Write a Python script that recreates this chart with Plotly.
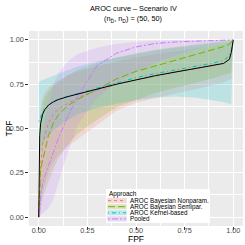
import plotly.graph_objects as go

# ---------------- data ----------------
FPF = [0, 0.005, 0.01, 0.02, 0.03, 0.05, 0.075, 0.1, 0.15, 0.2, 0.3, 0.4, 0.5,
       0.6, 0.7, 0.8, 0.9, 0.95, 0.98, 0.99, 1.0]

TRUE_AROC = [0, 0.46, 0.53, 0.58, 0.605, 0.632, 0.65, 0.663, 0.68, 0.695, 0.722,
             0.75, 0.775, 0.798, 0.818, 0.836, 0.855, 0.867, 0.89, 0.93, 1.0]

NONPAR = [0, 0.2, 0.3, 0.41, 0.46, 0.53, 0.58, 0.61, 0.645, 0.675, 0.715, 0.748,
          0.775, 0.797, 0.817, 0.835, 0.855, 0.868, 0.893, 0.93, 1.0]
NONPAR_LO = [0, 0.04, 0.08, 0.14, 0.18, 0.25, 0.31, 0.35, 0.4, 0.44, 0.52, 0.6,
             0.645, 0.672, 0.698, 0.72, 0.745, 0.76, 0.775, 0.78, 1.0]
NONPAR_HI = [0.2, 0.55, 0.62, 0.67, 0.7, 0.73, 0.755, 0.77, 0.8, 0.82, 0.85, 0.875,
             0.9, 0.92, 0.935, 0.95, 0.968, 0.978, 0.985, 0.99, 1.0]

SEMIPAR = [0, 0.22, 0.27, 0.32, 0.37, 0.46, 0.53, 0.575, 0.63, 0.665, 0.72, 0.78,
           0.822, 0.853, 0.885, 0.915, 0.945, 0.962, 0.975, 0.985, 1.0]
SEMIPAR_LO = [0, 0.03, 0.06, 0.1, 0.14, 0.2, 0.27, 0.33, 0.41, 0.47, 0.55, 0.62,
              0.66, 0.7, 0.73, 0.755, 0.785, 0.8, 0.81, 0.815, 1.0]
SEMIPAR_HI = [0, 0.45, 0.55, 0.63, 0.67, 0.71, 0.74, 0.76, 0.8, 0.83, 0.87, 0.9,
              0.925, 0.945, 0.96, 0.975, 0.988, 0.993, 0.996, 0.998, 1.0]

KERNEL = [0.54, 0.555, 0.57, 0.59, 0.605, 0.63, 0.65, 0.665, 0.682, 0.698, 0.728,
          0.757, 0.787, 0.81, 0.83, 0.848, 0.87, 0.885, 0.91, 0.94, 1.0]
KERNEL_LO = [0.3, 0.34, 0.37, 0.41, 0.43, 0.46, 0.49, 0.51, 0.55, 0.58, 0.615, 0.64,
             0.66, 0.675, 0.68, 0.675, 0.66, 0.65, 0.64, 0.635, 1.0]
KERNEL_HI = [0.76, 0.765, 0.77, 0.775, 0.78, 0.79, 0.8, 0.81, 0.83, 0.85, 0.88, 0.9,
             0.92, 0.94, 0.955, 0.968, 0.98, 0.988, 0.993, 0.996, 1.0]

POOLED = [0, 0.02, 0.12, 0.19, 0.23, 0.29, 0.37, 0.44, 0.57, 0.68, 0.855, 0.925,
          0.96, 0.98, 0.988, 0.992, 0.995, 0.997, 0.998, 0.999, 1.0]
POOLED_LO = [0, 0, 0.01, 0.02, 0.03, 0.05, 0.1, 0.19, 0.37, 0.52, 0.67, 0.76,
             0.82, 0.87, 0.91, 0.945, 0.975, 0.988, 0.995, 0.998, 1.0]
POOLED_HI = [0.03, 0.15, 0.3, 0.45, 0.55, 0.64, 0.74, 0.81, 0.88, 0.92, 0.955, 0.978,
             0.99, 0.996, 0.998, 0.999, 1.0, 1.0, 1.0, 1.0, 1.0]

APPROACHES = ["AROC Bayesian Nonparam.", "AROC Bayesian Semipar.",
              "AROC Kernel-based", "Pooled"]
COLORS = ["248,118,109", "124,174,0", "0,191,196", "199,124,255"]
DASHES = ["3px,3px", "7px,3px", "1px,3px,4px,3px", "2px,2px,6px,2px"]
TICKS = [0, 0.25, 0.5, 0.75, 1.0]
TICK_TEXT = ["0.00", "0.25", "0.50", "0.75", "1.00"]

series = [(NONPAR, NONPAR_LO, NONPAR_HI), (SEMIPAR, SEMIPAR_LO, SEMIPAR_HI),
          (KERNEL, KERNEL_LO, KERNEL_HI), (POOLED, POOLED_LO, POOLED_HI)]

# ---------------- figure ----------------
W = H = 245
L, R, T, B = 29, 2, 31, 19
pw, ph = W - L - R, H - T - B


def px(x):
    return (x - L) / pw


def py(y):
    return (H - B - y) / ph


fig = go.Figure()

for (mid, lo, hi), c in zip(series, COLORS):
    fig.add_trace(go.Scatter(
        x=FPF + FPF[::-1], y=lo + hi[::-1], fill="toself",
        fillcolor=f"rgba({c},0.2)", line=dict(width=0), mode="lines",
        hoverinfo="skip", showlegend=False))

for (mid, lo, hi), c, d, name in zip(series, COLORS, DASHES, APPROACHES):
    fig.add_trace(go.Scatter(
        x=FPF, y=mid, mode="lines", name=name,
        line=dict(color=f"rgb({c})", width=1, dash=d), showlegend=False))

fig.add_trace(go.Scatter(x=FPF, y=TRUE_AROC, mode="lines",
                         line=dict(color="black", width=1), showlegend=False))

axis_common = dict(
    range=[-0.05, 1.05], tickvals=TICKS, ticktext=TICK_TEXT,
    showgrid=True, gridcolor="white", gridwidth=1, zeroline=False,
    ticks="outside", ticklen=2.7, tickwidth=0.6, tickcolor="#333333",
    tickfont=dict(family="Liberation Sans, Arial, sans-serif", size=7.3, color="#4D4D4D"),
    minor=dict(dtick=0.125, tick0=0, showgrid=True, gridcolor="white", gridwidth=0.5),
    showline=False, fixedrange=True,
)

fig.update_layout(
    width=W, height=H,
    margin=dict(l=L, r=R, t=T, b=B, pad=0),
    paper_bgcolor="white", plot_bgcolor="#EBEBEB",
    xaxis=dict(**axis_common, ticklabelstandoff=-5),
    yaxis=dict(**axis_common),
    showlegend=False,
    font=dict(family="Liberation Sans, Arial, sans-serif"),
)

ann = []
ann.append(dict(text="AROC curve \u2013 Scenario IV", x=px(133), y=py(8.5), xref="paper",
                yref="paper", showarrow=False, xanchor="center", yanchor="middle",
                font=dict(size=7.3, color="black")))
ann.append(dict(text="(n<sub>D\u0304</sub>, n<sub>D</sub>) = (50, 50)", x=px(133), y=py(19),
                xref="paper", yref="paper", showarrow=False, xanchor="center",
                yanchor="middle", font=dict(size=7.3, color="black")))
ann.append(dict(text="FPF", x=px(136), y=py(238.5), xref="paper", yref="paper",
                showarrow=False, xanchor="center", yanchor="middle",
                font=dict(size=8.5, color="black")))
ann.append(dict(text="TPF", x=px(8), y=py(128.5), xref="paper", yref="paper",
                showarrow=False, xanchor="center", yanchor="middle", textangle=-90,
                font=dict(size=8.5, color="black")))

shapes = []
# legend box
shapes.append(dict(type="rect", xref="paper", yref="paper", x0=px(106), x1=px(210),
                   y0=py(223), y1=py(189), fillcolor="white", line=dict(width=0),
                   layer="above"))
ann.append(dict(text="Approach", x=px(107), y=py(193.5), xref="paper", yref="paper",
                showarrow=False, xanchor="left", yanchor="middle",
                font=dict(size=6.4, color="black")))
ys = [200.6, 206.7, 212.8, 218.9]
for yy, c, d, name in zip(ys, COLORS, DASHES, APPROACHES):
    shapes.append(dict(type="rect", xref="paper", yref="paper", x0=px(107), x1=px(127),
                       y0=py(yy + 2.9), y1=py(yy - 2.9), fillcolor="#F2F2F2",
                       line=dict(width=0), layer="above"))
    shapes.append(dict(type="rect", xref="paper", yref="paper", x0=px(107.5), x1=px(126.5),
                       y0=py(yy + 2.5), y1=py(yy - 2.5), fillcolor=f"rgba({c},0.2)",
                       line=dict(width=0), layer="above"))
    shapes.append(dict(type="line", xref="paper", yref="paper", x0=px(108), x1=px(126),
                       y0=py(yy), y1=py(yy), line=dict(color=f"rgb({c})", width=1, dash=d),
                       layer="above"))
    ann.append(dict(text=name, x=px(128.3), y=py(yy), xref="paper", yref="paper",
                    showarrow=False, xanchor="left", yanchor="middle",
                    font=dict(size=6.3, color="black")))

fig.update_layout(annotations=ann, shapes=shapes)
fig.write_html("out.html", config={"displayModeBar": False},
               post_script="document.body.style.margin='0';")
